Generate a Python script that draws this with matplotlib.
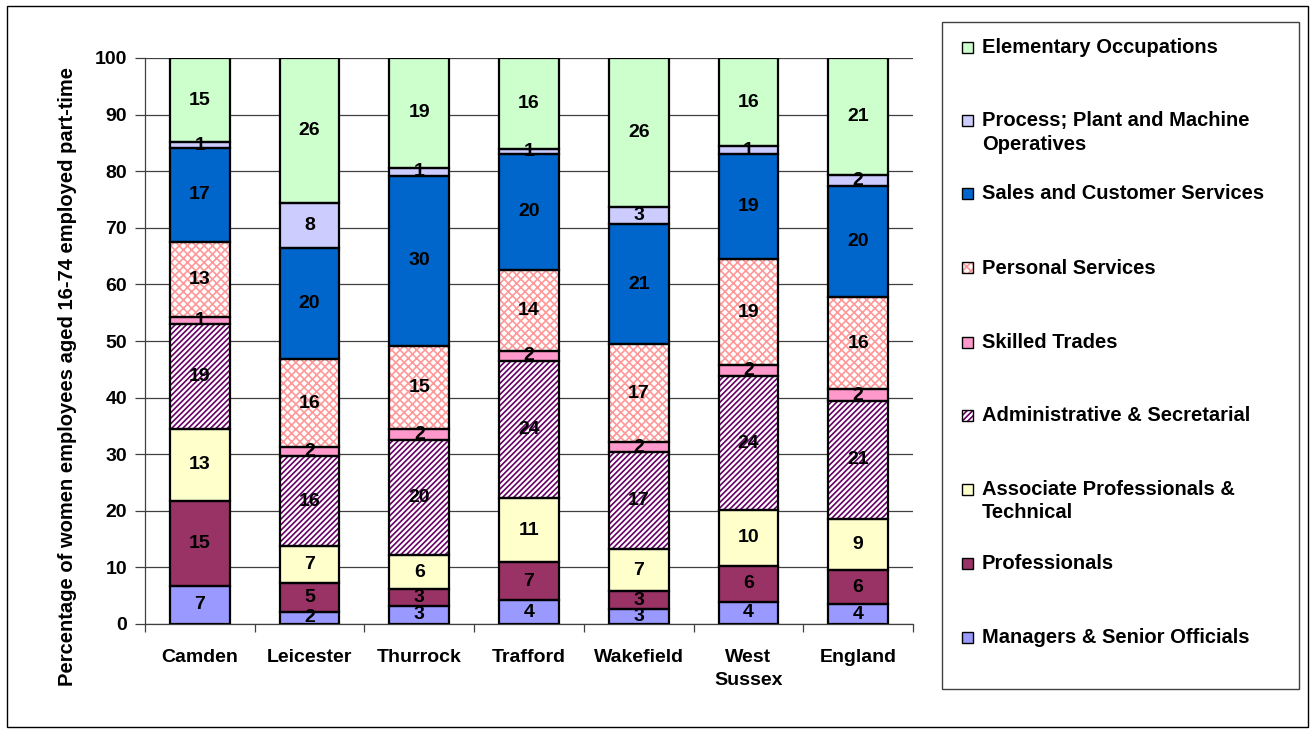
import matplotlib
matplotlib.use("Agg")
import matplotlib.pyplot as plt
from matplotlib.patches import Rectangle
import numpy as np
import math

plt.rcParams['font.family'] = ['Liberation Sans', 'DejaVu Sans']
plt.rcParams['hatch.linewidth'] = 1.2

categories = ["Camden", "Leicester", "Thurrock", "Trafford", "Wakefield", "West\nSussex", "England"]

series_names = [
    "Managers & Senior Officials",
    "Professionals",
    "Associate Professionals &\nTechnical",
    "Administrative & Secretarial",
    "Skilled Trades",
    "Personal Services",
    "Sales and Customer Services",
    "Process; Plant and Machine\nOperatives",
    "Elementary Occupations",
]

managers      = [6.8, 2.2, 3.2, 4.2, 2.6, 3.9, 3.5]
professionals = [15.0, 5.0, 2.9, 6.7, 3.2, 6.4, 6.0]
associate     = [12.6, 6.6, 6.1, 11.4, 7.4, 9.8, 9.1]
administrative= [18.6, 15.8, 20.3, 24.2, 17.2, 23.7, 20.8]
skilled       = [1.2, 1.6, 2.0, 1.7, 1.7, 2.0, 2.1]
personal      = [13.3, 15.6, 14.6, 14.4, 17.3, 18.6, 16.2]
sales         = [16.6, 19.6, 30.1, 20.4, 21.3, 18.6, 19.6]
process       = [1.0, 7.9, 1.4, 1.0, 3.0, 1.4, 2.0]
elementary    = [14.9, 25.7, 19.4, 16.0, 26.3, 15.6, 20.7]

series_values = [managers, professionals, associate, administrative, skilled,
                 personal, sales, process, elementary]

# style per series: (facecolor, hatch, hatchcolor)
styles = [
    ("#9999FF", None, None),
    ("#993366", None, None),
    ("#FFFFCC", None, None),
    ("#FFFFFF", "//////", "#660066"),
    ("#FF99CC", None, None),
    ("#FFFFFF", "xxxx", "#FF9999"),
    ("#0066CC", None, None),
    ("#CCCCFF", None, None),
    ("#CCFFCC", None, None),
]

W, H = 1312, 729
fig = plt.figure(figsize=(W / 100, H / 100), dpi=100)

def fx(px):
    return px / W

def fy(py):
    return 1 - py / H

# figure border
fig.patches.append(Rectangle((fx(7), fy(727)), fx(1308) - fx(7), fy(6) - fy(727),
                             transform=fig.transFigure, fill=False,
                             edgecolor="black", linewidth=1.0))

ax_left, ax_right = 145, 913
ax_top, ax_bottom = 58, 624
ax = fig.add_axes([fx(ax_left), fy(ax_bottom), fx(ax_right) - fx(ax_left), fy(ax_top) - fy(ax_bottom)])

x = np.arange(len(categories))
width = 0.545
bottom = np.zeros(len(categories))
for vals, (fc, hatch, hc) in zip(series_values, styles):
    vals = np.array(vals)
    if hatch:
        ax.bar(x, vals, width, bottom=bottom, color=fc, hatch=hatch,
               edgecolor=hc, linewidth=0, zorder=2)
    else:
        ax.bar(x, vals, width, bottom=bottom, color=fc, linewidth=0, zorder=2)
    ax.bar(x, vals, width, bottom=bottom, fill=False, edgecolor="black",
           linewidth=1.6, zorder=3)
    for xi, b, v in zip(x, bottom, vals):
        ax.text(xi, b + v / 2, f"{int(math.floor(v + 0.5))}", ha="center", va="center",
                fontsize=14, fontweight="bold", color="black", zorder=4)
    bottom += vals

ax.set_xlim(-0.5, len(categories) - 0.5)
ax.set_ylim(0, 100)
ax.set_yticks(np.arange(0, 101, 10))
ax.set_yticklabels([str(v) for v in range(0, 101, 10)], fontsize=14, fontweight="bold")
ax.yaxis.grid(True, color="#404040", linewidth=0.9, zorder=0)
ax.set_axisbelow(True)
ax.tick_params(axis="y", length=7, width=0.9, color="#404040", pad=6)

ax.set_xticks(x)
ax.set_xticklabels(categories, fontsize=14, fontweight="bold")
for lab in ax.get_xticklabels():
    lab.set_linespacing(1.45)
ax.tick_params(axis="x", length=0, pad=18)
# boundary ticks between categories
ax.set_xticks(np.arange(-0.5, len(categories) + 0.5, 1), minor=True)
ax.tick_params(axis="x", which="minor", length=6, width=0.9, color="#404040", direction="out")

for s in ["top", "right"]:
    ax.spines[s].set_visible(False)
ax.spines["left"].set_color("#404040")
ax.spines["bottom"].set_color("#404040")
ax.spines["left"].set_linewidth(0.9)
ax.spines["bottom"].set_linewidth(0.9)

fig.text(fx(68), fy(376), "Percentage of women employees aged 16-74 employed part-time",
         rotation=90, ha="center", va="center", fontsize=14.5, fontweight="bold")

# legend box
fig.patches.append(Rectangle((fx(942), fy(689)), fx(1299) - fx(942), fy(22) - fy(689),
                             transform=fig.transFigure, fill=False,
                             edgecolor="#404040", linewidth=1.0))

legend_y = [637, 563, 489, 415, 342, 268, 193, 120, 47]
for name, (fc, hatch, hc), py in zip(series_names, styles, legend_y):
    sq = 11
    fig.patches.append(Rectangle((fx(962), fy(py + sq / 2)), fx(sq), sq / H,
                                 transform=fig.transFigure, facecolor=fc,
                                 hatch=hatch, edgecolor=hc if hatch else "black",
                                 linewidth=0))
    fig.patches.append(Rectangle((fx(962), fy(py + sq / 2)), fx(sq), sq / H,
                                 transform=fig.transFigure, fill=False,
                                 edgecolor="black", linewidth=1.0))
    fig.text(fx(982), fy(py - 9), name, ha="left", va="top", fontsize=14.5,
             fontweight="bold", linespacing=1.3)

fig.savefig("out.png", dpi=100)
